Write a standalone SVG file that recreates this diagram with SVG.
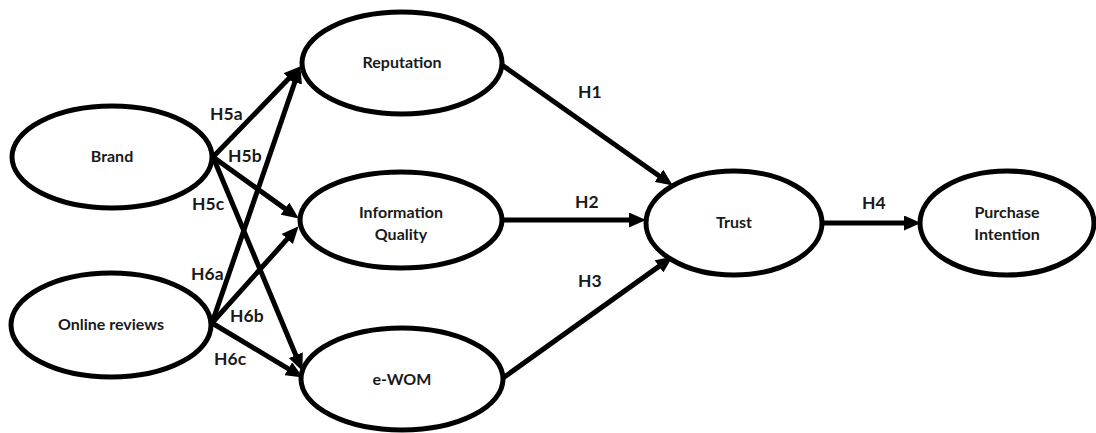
<svg xmlns="http://www.w3.org/2000/svg" width="1096" height="433" viewBox="0 0 1096 433">
<style>
.node ellipse{fill:#fff;stroke:#000;stroke-width:5}
.node text{font-family:Lato,"Open Sans","Liberation Sans",sans-serif;font-weight:bold;font-size:16px;fill:#1a1a1a;text-anchor:middle}
.conn line{stroke:#000;stroke-width:5;marker-end:url(#ah)}
.lbl{font-family:Lato,"Open Sans","Liberation Sans",sans-serif;font-weight:bold;font-size:17.5px;fill:#1a1a1a}
</style>
<defs>
<marker id="ah" markerUnits="userSpaceOnUse" markerWidth="17" markerHeight="15" viewBox="0 0 17 15" refX="3" refY="7.5" orient="auto">
<path d="M0,0 L17,7.5 L0,15 z" fill="#000"/>
</marker>
</defs>
<rect width="1096" height="433" fill="#fff"/>
<g id="connectors" class="conn">
<line x1="213" y1="157" x2="291.0" y2="76.3"/>
<line x1="213" y1="157" x2="287.4" y2="210.4"/>
<line x1="213" y1="157" x2="297.0" y2="358.0"/>
<line x1="212" y1="323" x2="295.8" y2="79.3"/>
<line x1="212" y1="323" x2="289.3" y2="236.7"/>
<line x1="212" y1="323" x2="290.9" y2="370.3"/>
<line x1="502" y1="65" x2="661.4" y2="177.5"/>
<line x1="502" y1="220" x2="632" y2="220"/>
<line x1="503" y1="378" x2="661.4" y2="264.6"/>
<line x1="822" y1="223" x2="907" y2="223"/>
</g>
<g id="node-brand" class="node"><ellipse cx="112" cy="157" rx="100" ry="51"/><text x="112" y="162">Brand</text></g>
<g id="node-online" class="node"><ellipse cx="111" cy="325" rx="100" ry="52"/><text x="111" y="330">Online reviews</text></g>
<g id="node-reputation" class="node"><ellipse cx="402" cy="63" rx="100" ry="51"/><text x="402" y="68">Reputation</text></g>
<g id="node-iq" class="node"><ellipse cx="401" cy="220" rx="101" ry="48"/><text x="401" y="218">Information</text><text x="401" y="240">Quality</text></g>
<g id="node-ewom" class="node"><ellipse cx="402" cy="379" rx="101" ry="51"/><text x="402" y="385">e-WOM</text></g>
<g id="node-trust" class="node"><ellipse cx="734" cy="223" rx="88" ry="52"/><text x="734" y="228">Trust</text></g>
<g id="node-pi" class="node"><ellipse cx="1007" cy="223" rx="87" ry="52"/><text x="1007" y="218">Purchase</text><text x="1007" y="240">Intention</text></g>
<g id="labels">
<text class="lbl" x="210" y="120">H5a</text>
<text class="lbl" x="228" y="162">H5b</text>
<text class="lbl" x="192" y="210">H5c</text>
<text class="lbl" x="191" y="280">H6a</text>
<text class="lbl" x="230" y="322">H6b</text>
<text class="lbl" x="214" y="365">H6c</text>
<text class="lbl" x="578" y="98">H1</text>
<text class="lbl" x="575" y="208">H2</text>
<text class="lbl" x="578" y="287">H3</text>
<text class="lbl" x="862" y="209">H4</text>
</g>
</svg>
